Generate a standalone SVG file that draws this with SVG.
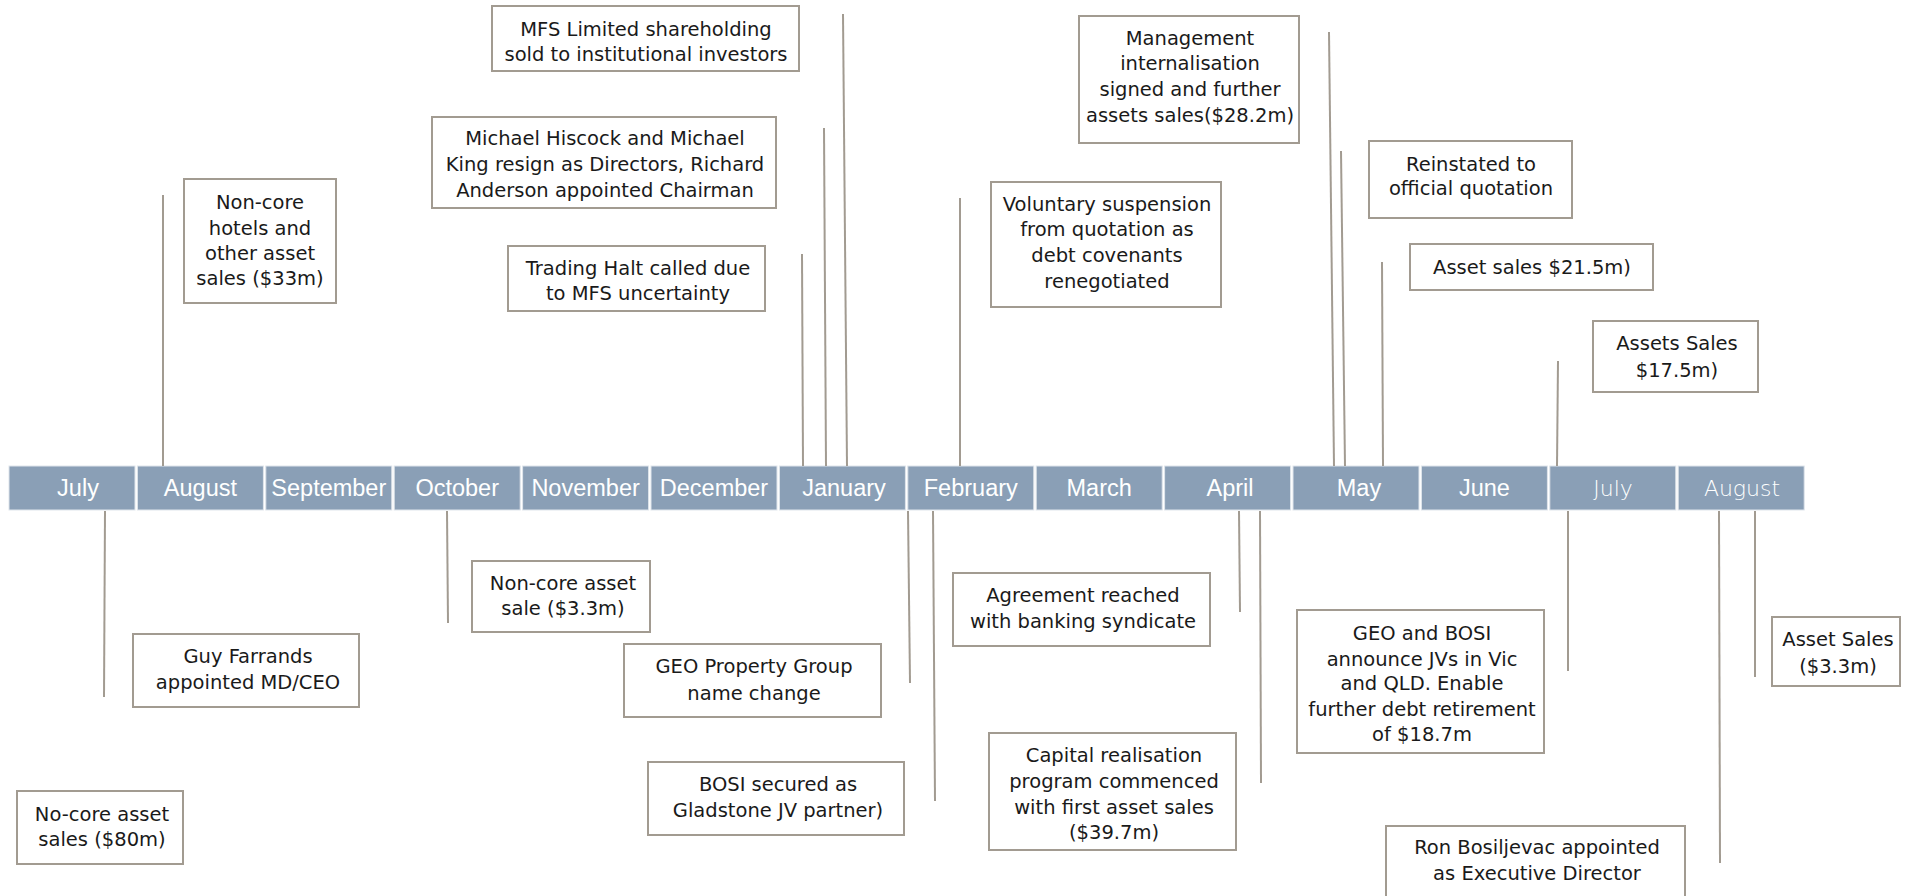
<svg xmlns="http://www.w3.org/2000/svg" width="1910" height="896" viewBox="0 0 1910 896">
<style>
.bg{fill:#ffffff}
.mon rect{fill:#8a9fb6;stroke:#dfe5ec;stroke-width:1}
.mon text{fill:#ffffff;font-family:"Liberation Sans",Arial,sans-serif;font-size:23.5px;text-anchor:middle}
.mon text.lt{font-family:"DejaVu Sans",sans-serif;font-weight:200;font-size:22px}
.node rect{fill:#ffffff;stroke:#a29b91;stroke-width:2}
.node text{fill:#1a1a1a;font-family:"DejaVu Sans",sans-serif;font-size:19.5px;text-anchor:middle}
.conn line{stroke:#a29b91;stroke-width:2}
</style>
<rect class="bg" x="0" y="0" width="1910" height="896"/>
<g id="timeline" class="mon">
<rect x="9" y="466" width="126" height="44"/><text x="78" y="496">July</text>
<rect x="137.4" y="466" width="126" height="44"/><text x="200.4" y="496">August</text>
<rect x="265.8" y="466" width="126" height="44"/><text x="328.8" y="496">September</text>
<rect x="394.2" y="466" width="126" height="44"/><text x="457.2" y="496">October</text>
<rect x="522.6" y="466" width="126" height="44"/><text x="585.6" y="496">November</text>
<rect x="651" y="466" width="126" height="44"/><text x="714" y="496">December</text>
<rect x="779.4" y="466" width="126" height="44"/><text x="844" y="496">January</text>
<rect x="907.8" y="466" width="126" height="44"/><text x="970.8" y="496">February</text>
<rect x="1036.2" y="466" width="126" height="44"/><text x="1099.2" y="496">March</text>
<rect x="1164.6" y="466" width="126" height="44"/><text x="1230" y="496">April</text>
<rect x="1293" y="466" width="126" height="44"/><text x="1359" y="496">May</text>
<rect x="1421.4" y="466" width="126" height="44"/><text x="1484.4" y="496">June</text>
<rect x="1549.8" y="466" width="126" height="44"/><text class="lt" x="1613" y="496">July</text>
<rect x="1678.2" y="466" width="126" height="44"/><text class="lt" x="1742" y="496">August</text>
</g>
<g id="connectors" class="conn">
<line x1="163" y1="195" x2="163" y2="466"/>
<line x1="843" y1="14" x2="847" y2="466"/>
<line x1="824" y1="128" x2="826" y2="466"/>
<line x1="802" y1="254" x2="803" y2="466"/>
<line x1="960" y1="198" x2="960" y2="466"/>
<line x1="1329" y1="32" x2="1334" y2="466"/>
<line x1="1341" y1="151" x2="1345" y2="466"/>
<line x1="1382" y1="262" x2="1383" y2="466"/>
<line x1="1558" y1="361" x2="1557" y2="466"/>
<line x1="105" y1="511" x2="104" y2="697"/>
<line x1="447" y1="511" x2="448" y2="623"/>
<line x1="908" y1="511" x2="910" y2="683"/>
<line x1="933" y1="511" x2="935" y2="801"/>
<line x1="1239" y1="511" x2="1240" y2="612"/>
<line x1="1260" y1="511" x2="1261" y2="783"/>
<line x1="1568" y1="511" x2="1568" y2="671"/>
<line x1="1719" y1="511" x2="1720" y2="863"/>
<line x1="1755" y1="511" x2="1755" y2="677"/>
</g>
<g id="n-hotels" class="node"><rect x="184" y="179" width="152" height="124"/>
<text x="260" y="209">Non-core</text><text x="260" y="234.5">hotels and</text><text x="260" y="260">other asset</text><text x="260" y="285">sales ($33m)</text></g>
<g id="n-mfs" class="node"><rect x="492" y="6" width="307" height="65"/>
<text x="646" y="35.5">MFS Limited shareholding</text><text x="646" y="60.5">sold to institutional investors</text></g>
<g id="n-hiscock" class="node"><rect x="432" y="117" width="344" height="91"/>
<text x="605" y="144.5">Michael Hiscock and Michael</text><text x="605" y="170.5">King resign as Directors, Richard</text><text x="605" y="196.5">Anderson appointed Chairman</text></g>
<g id="n-halt" class="node"><rect x="508" y="246" width="257" height="65"/>
<text x="638" y="274.5">Trading Halt called due</text><text x="638" y="300">to MFS uncertainty</text></g>
<g id="n-suspension" class="node"><rect x="991" y="182" width="230" height="125"/>
<text x="1107" y="210.5">Voluntary suspension</text><text x="1107" y="236.3">from quotation as</text><text x="1107" y="262">debt covenants</text><text x="1107" y="287.8">renegotiated</text></g>
<g id="n-management" class="node"><rect x="1079" y="16" width="220" height="127"/>
<text x="1190" y="45">Management</text><text x="1190" y="70">internalisation</text><text x="1190" y="95.5">signed and further</text><text x="1190" y="121.5">assets sales($28.2m)</text></g>
<g id="n-reinstated" class="node"><rect x="1369" y="141" width="203" height="77"/>
<text x="1471" y="170.5">Reinstated to</text><text x="1471" y="195">official quotation</text></g>
<g id="n-sales215" class="node"><rect x="1410" y="244" width="243" height="46"/>
<text x="1532" y="274">Asset sales $21.5m)</text></g>
<g id="n-sales175" class="node"><rect x="1593" y="321" width="165" height="71"/>
<text x="1677" y="350">Assets Sales</text><text x="1677" y="377">$17.5m)</text></g>
<g id="n-nocore80" class="node"><rect x="17" y="791" width="166" height="73"/>
<text x="102" y="820.5">No-core asset</text><text x="102" y="846">sales ($80m)</text></g>
<g id="n-farrands" class="node"><rect x="133" y="634" width="226" height="73"/>
<text x="248" y="662.5">Guy Farrands</text><text x="248" y="689">appointed MD/CEO</text></g>
<g id="n-noncore33" class="node"><rect x="472" y="561" width="178" height="71"/>
<text x="563" y="590">Non-core asset</text><text x="563" y="615">sale ($3.3m)</text></g>
<g id="n-geoname" class="node"><rect x="624" y="644" width="257" height="73"/>
<text x="754" y="673">GEO Property Group</text><text x="754" y="699.5">name change</text></g>
<g id="n-bosi" class="node"><rect x="648" y="762" width="256" height="73"/>
<text x="778" y="791">BOSI secured as</text><text x="778" y="817">Gladstone JV partner)</text></g>
<g id="n-agreement" class="node"><rect x="953" y="573" width="257" height="73"/>
<text x="1083" y="602">Agreement reached</text><text x="1083" y="628">with banking syndicate</text></g>
<g id="n-capital" class="node"><rect x="989" y="733" width="247" height="117"/>
<text x="1114" y="762">Capital realisation</text><text x="1114" y="788">program commenced</text><text x="1114" y="814">with first asset sales</text><text x="1114" y="839">($39.7m)</text></g>
<g id="n-geobosi" class="node"><rect x="1297" y="610" width="247" height="143"/>
<text x="1422" y="639.5">GEO and BOSI</text><text x="1422" y="665.5">announce JVs in Vic</text><text x="1422" y="690">and QLD. Enable</text><text x="1422" y="715.5">further debt retirement</text><text x="1422" y="741">of $18.7m</text></g>
<g id="n-ron" class="node"><rect x="1386" y="826" width="299" height="80"/>
<text x="1537" y="854">Ron Bosiljevac appointed</text><text x="1537" y="880">as Executive Director</text></g>
<g id="n-sales33" class="node"><rect x="1772" y="617" width="128" height="69"/>
<text x="1838" y="646">Asset Sales</text><text x="1838" y="673">($3.3m)</text></g>
</svg>
